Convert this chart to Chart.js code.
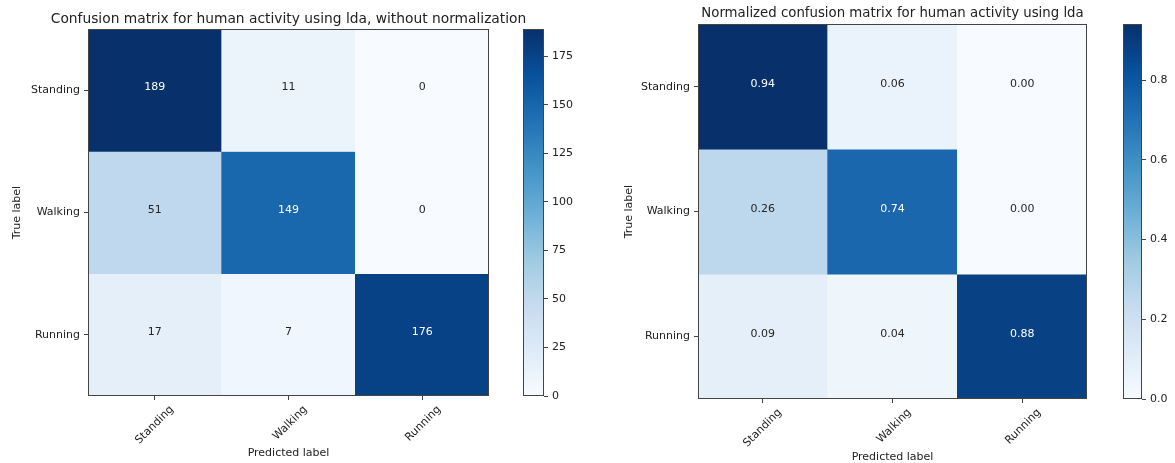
<!DOCTYPE html>
<html>
<head>
<meta charset="utf-8">
<script src="https://cdn.jsdelivr.net/npm/chart.js@4.4.1/dist/chart.umd.min.js"></script>
<style>
  html, body { margin: 0; padding: 0; background: #fff; }
  #wrap { position: relative; width: 1175px; height: 463px; overflow: hidden; }
  #wrap canvas { position: absolute; top: 0; }
</style>
</head>
<body>
<div id="wrap">
  <canvas id="cmRaw" width="577" height="463" style="left:0px"></canvas>
  <canvas id="cbRaw" width="60" height="463" style="left:515px"></canvas>
  <canvas id="cmNorm" width="585" height="463" style="left:600px"></canvas>
  <canvas id="cbNorm" width="60" height="463" style="left:1115px"></canvas>
</div>
<script>
// ---- data ----
const classes = ['Standing', 'Walking', 'Running'];
const countMatrix = [
  [189, 11, 0],
  [51, 149, 0],
  [17, 7, 176]
];
const normMatrix = [
  [0.94, 0.06, 0.00],
  [0.26, 0.74, 0.00],
  [0.09, 0.04, 0.88]
];
const countBarTicks = [0, 25, 50, 75, 100, 125, 150, 175];
const normBarTicks = [0, 0.2, 0.4, 0.6, 0.8];

// matplotlib "Blues" colour map stops
const bluesStops = ['#f7fbff', '#deebf7', '#c6dbef', '#9ecae1', '#6baed6',
                    '#4292c6', '#2171b5', '#08519c', '#08306b'];

const FONT = '"DejaVu Sans", "Liberation Sans", sans-serif';
const INK = '#222';
const SPINE = '#444';

function hexToRgb(h) {
  const n = parseInt(h.slice(1), 16);
  return [(n >> 16) & 255, (n >> 8) & 255, n & 255];
}
const bluesRgb = bluesStops.map(hexToRgb);
function blues(t) {
  t = Math.max(0, Math.min(1, t));
  const p = t * (bluesRgb.length - 1);
  const i = Math.min(Math.floor(p), bluesRgb.length - 2);
  const f = p - i;
  const a = bluesRgb[i], b = bluesRgb[i + 1];
  const c = a.map((v, k) => Math.round(v + (b[k] - v) * f));
  return `rgb(${c[0]},${c[1]},${c[2]})`;
}
function maxOf(m) { return Math.max(...m.flat()); }

// axes frame (matplotlib-style spines on all four sides)
const framePlugin = {
  id: 'frame',
  afterDatasetsDraw(chart) {
    const { ctx, chartArea: a } = chart;
    ctx.save();
    ctx.strokeStyle = SPINE;
    ctx.lineWidth = 1;
    ctx.strokeRect(Math.round(a.left) + 0.5, Math.round(a.top) + 0.5,
                   Math.round(a.right - a.left) - 1, Math.round(a.bottom - a.top) - 1);
    ctx.restore();
  }
};

function matrixChart(id, matrix, fmt, title, g) {
  const n = classes.length;
  const vmax = maxOf(matrix);
  const datasets = matrix.map((row, r) => ({
    label: classes[r],
    data: row.map(() => [n - 1 - r, n - r]),
    backgroundColor: row.map(v => blues(v / vmax)),
    borderWidth: 0,
    grouped: false,
    barPercentage: 1,
    categoryPercentage: 1
  }));

  const valuePlugin = {
    id: 'cellValues',
    afterDatasetsDraw(chart) {
      const ctx = chart.ctx;
      ctx.save();
      ctx.font = '11px ' + FONT;
      ctx.textAlign = 'center';
      ctx.textBaseline = 'alphabetic';
      matrix.forEach((row, r) => {
        const meta = chart.getDatasetMeta(r);
        row.forEach((v, c) => {
          const bar = meta.data[c];
          const cy = (bar.y + bar.base) / 2;
          ctx.fillStyle = v > vmax / 2 ? '#ffffff' : '#262626';
          ctx.fillText(fmt(v), bar.x, cy);
        });
      });
      ctx.restore();
    }
  };

  const tickGrid = {
    display: true, drawOnChartArea: false, drawTicks: true,
    tickLength: 4, color: SPINE, lineWidth: 1, offset: false
  };

  return new Chart(document.getElementById(id), {
    type: 'bar',
    data: { labels: classes, datasets },
    options: {
      responsive: false,
      animation: false,
      layout: { padding: 0 },
      plugins: {
        legend: { display: false },
        tooltip: { enabled: false },
        title: {
          display: true, text: title, color: INK,
          font: { family: FONT, size: g.titleSize, weight: 'normal', lineHeight: 1.2 },
          padding: { top: g.titleTop, bottom: g.titleBottom }
        }
      },
      scales: {
        x: {
          type: 'category', offset: true,
          grid: tickGrid,
          border: { display: false },
          ticks: {
            color: INK, font: { family: FONT, size: 11 },
            minRotation: 45, maxRotation: 45, autoSkip: false,
            padding: g.xTickPad, labelOffset: g.xLabelOffset
          },
          title: {
            display: true, text: 'Predicted label', color: INK,
            font: { family: FONT, size: 11, lineHeight: g.xTitleLH },
            padding: { top: 0, bottom: g.xTitleBottom }
          },
          afterFit(s) { s.height = g.xAxisHeight; }
        },
        y: {
          type: 'linear', min: 0, max: n,
          grid: tickGrid,
          border: { display: false },
          afterBuildTicks(s) {
            s.ticks = classes.map((_, i) => ({ value: n - 1 - i + 0.5 }));
          },
          ticks: {
            color: INK, font: { family: FONT, size: 11 }, padding: 4,
            callback: v => classes[n - 1 - Math.floor(v)]
          },
          title: {
            display: true, text: 'True label', color: INK,
            font: { family: FONT, size: 11, lineHeight: 1.2 },
            padding: { top: g.yTitleTop, bottom: 0 }
          },
          afterFit(s) { s.width = g.yAxisWidth; }
        },
        // empty right-hand strip, same width as the left axis, so the title
        // sits centred over the plotting area
        yMirror: {
          type: 'linear', position: 'right', display: true,
          grid: { display: false }, border: { display: false },
          ticks: { display: false },
          afterFit(s) { s.width = g.yAxisWidth; }
        }
      }
    },
    plugins: [valuePlugin, framePlugin]
  });
}

function colorbarChart(id, matrix, tickValues, fmt, g) {
  const vmax = maxOf(matrix);
  return new Chart(document.getElementById(id), {
    type: 'bar',
    data: {
      labels: [''],
      datasets: [{
        data: [[0, vmax]],
        borderWidth: 0,
        inflateAmount: 0,
        barPercentage: 1,
        categoryPercentage: 1,
        backgroundColor(c) {
          const a = c.chart.chartArea;
          if (!a) return blues(0.5);
          const grad = c.chart.ctx.createLinearGradient(0, a.bottom, 0, a.top);
          bluesStops.forEach((col, i) => grad.addColorStop(i / (bluesStops.length - 1), col));
          return grad;
        }
      }]
    },
    options: {
      responsive: false,
      animation: false,
      layout: { padding: { left: 8, right: 0, top: g.top, bottom: g.bottom } },
      plugins: { legend: { display: false }, tooltip: { enabled: false } },
      scales: {
        x: { display: false, offset: true },
        y: {
          position: 'right', min: 0, max: vmax,
          border: { display: false },
          grid: { display: true, drawOnChartArea: false, drawTicks: true, tickLength: 4, color: SPINE },
          afterBuildTicks(s) { s.ticks = tickValues.map(value => ({ value })); },
          ticks: { color: INK, font: { family: FONT, size: 11 }, padding: 4, callback: v => fmt(v) },
          afterFit(s) { s.width = g.axisWidth; }
        }
      }
    },
    plugins: [framePlugin]
  });
}

matrixChart('cmRaw', countMatrix, v => String(v),
  'Confusion matrix for human activity using lda, without normalization', {
    titleSize: 13.8, titleTop: 11, titleBottom: 1.7,
    yAxisWidth: 88, xAxisHeight: 67, yTitleTop: 11,
    xTickPad: 3, xLabelOffset: 17, xTitleLH: 1.2, xTitleBottom: 3.7
  });
colorbarChart('cbRaw', countMatrix, countBarTicks, v => String(v), {
  top: 29.3, bottom: 67, axisWidth: 31
});

matrixChart('cmNorm', normMatrix, v => v.toFixed(2),
  'Normalized confusion matrix for human activity using lda', {
    titleSize: 13.3, titleTop: 5.2, titleBottom: 3.1,
    yAxisWidth: 98, xAxisHeight: 64, yTitleTop: 22.4,
    xTickPad: 3, xLabelOffset: 17, xTitleLH: 1.0, xTitleBottom: 0.2
  });
colorbarChart('cbNorm', normMatrix, normBarTicks, v => v.toFixed(1), {
  top: 24.3, bottom: 64, axisWidth: 33
});
</script>
</body>
</html>
